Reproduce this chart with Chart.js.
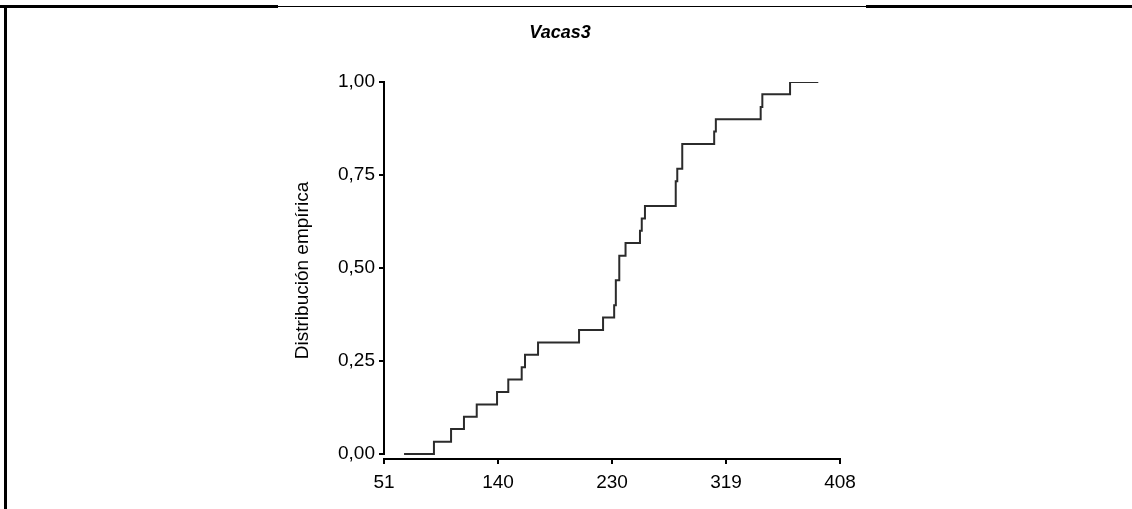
<!DOCTYPE html>
<html>
<head>
<meta charset="utf-8">
<script src="https://cdn.jsdelivr.net/npm/chart.js@4.4.1/dist/chart.umd.min.js"></script>
<style>
  html, body { margin: 0; padding: 0; background: #fff; }
  #wrap { position: relative; width: 1132px; height: 509px; }
</style>
</head>
<body>
<div id="wrap"><canvas id="ecdfChart"></canvas></div>
<script>
// Chart texts
const chartTitle = 'Vacas3';
const yAxisTitle = 'Distribución empírica';

// Step points of the empirical distribution (x = value, y = cumulative proportion)
const xValues = [66.7, 90.1, 103.5, 113.6, 123.6, 139.5, 148.3, 158.8, 161.4, 171.6,
                 203.7, 222.5, 231.2, 232.5, 235.2, 240.1, 251.4, 252.8, 255.3, 279.4,
                 280.6, 284.5, 309.5, 310.8, 345.9, 347.2, 368.9, 391.0];
const yValues = [0.000, 0.033, 0.067, 0.100, 0.133, 0.167, 0.200, 0.233, 0.267, 0.300,
                 0.333, 0.367, 0.400, 0.467, 0.533, 0.567, 0.600, 0.633, 0.667, 0.733,
                 0.767, 0.833, 0.867, 0.900, 0.933, 0.967, 1.000, 1.000];

// Axis ticks
const xTickValues = [51, 140.25, 229.5, 318.75, 408];
const xTickLabels = ['51', '140', '230', '319', '408'];
const yTickValues = [0, 0.25, 0.5, 0.75, 1];
const yTickLabels = ['0,00', '0,25', '0,50', '0,75', '1,00'];

const points = xValues.map((x, i) => ({ x: x, y: yValues[i] }));

// y axis line stops at 0 (x axis sits a bit lower), plus the outer frame lines
const axisAndFrame = {
  id: 'axisAndFrame',
  afterDraw(chart) {
    const ctx = chart.ctx;
    const yScale = chart.scales.y;
    ctx.save();
    ctx.strokeStyle = '#000';
    ctx.lineWidth = 2;
    ctx.beginPath();
    ctx.moveTo(yScale.right, yScale.getPixelForValue(1) - 1);
    ctx.lineTo(yScale.right, yScale.getPixelForValue(0) + 1);
    ctx.stroke();

    // frame
    ctx.fillStyle = '#000';
    ctx.fillRect(0, 5, 278, 3);
    ctx.fillRect(866, 5, 266, 3);
    ctx.fillRect(278, 6, 588, 1);
    ctx.fillRect(4, 5, 3, 504);
    ctx.restore();
  }
};

const ctx = document.getElementById('ecdfChart').getContext('2d');
new Chart(ctx, {
  type: 'line',
  data: {
    datasets: [{
      data: points,
      stepped: true,
      borderColor: '#2b2b2b',
      borderWidth: 2,
      pointRadius: 0,
      fill: false
    }]
  },
  options: {
    responsive: true,
    maintainAspectRatio: false,
    animation: false,
    layout: {
      padding: { left: 280, right: 292, top: 0, bottom: 0 }
    },
    plugins: {
      legend: { display: false },
      tooltip: { enabled: false },
      title: {
        display: true,
        text: chartTitle,
        color: '#000',
        font: { family: 'Liberation Sans, Arial, sans-serif', size: 18, weight: 'bold', style: 'italic' },
        padding: { top: 22, bottom: 38.4 }
      }
    },
    scales: {
      x: {
        type: 'linear',
        min: 51,
        max: 408,
        afterBuildTicks: (scale) => {
          scale.ticks = xTickValues.map(v => ({ value: v }));
        },
        afterFit: (scale) => { scale.height = 50; },
        border: { display: true, color: '#000', width: 2 },
        grid: { display: true, drawOnChartArea: false, drawTicks: true, tickLength: 5, color: '#000', lineWidth: 2 },
        ticks: {
          color: '#000',
          padding: 7,
          maxRotation: 0,
          autoSkip: false,
          font: { family: 'Liberation Sans, Arial, sans-serif', size: 19 },
          callback: (value, index) => xTickLabels[index]
        }
      },
      y: {
        type: 'linear',
        min: -0.01344,
        max: 1,
        afterBuildTicks: (scale) => {
          scale.ticks = yTickValues.map(v => ({ value: v }));
        },
        afterFit: (scale) => { scale.width = 104; },
        border: { display: false },
        grid: { display: true, drawOnChartArea: false, drawTicks: true, tickLength: 5, color: '#000', lineWidth: 2 },
        ticks: {
          color: '#000',
          padding: 4,
          autoSkip: false,
          font: { family: 'Liberation Sans, Arial, sans-serif', size: 19 },
          callback: (value, index) => yTickLabels[index]
        },
        title: {
          display: true,
          text: yAxisTitle,
          color: '#000',
          font: { family: 'Liberation Sans, Arial, sans-serif', size: 19 },
          padding: { top: 11.6, bottom: 0 }
        }
      }
    }
  },
  plugins: [axisAndFrame]
});
</script>
</body>
</html>
